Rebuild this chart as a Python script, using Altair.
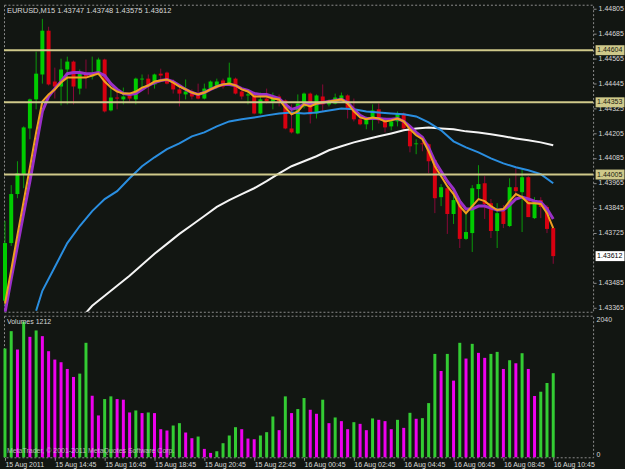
import json
import altair as alt
import pandas as pd

# ---------------- data ----------------
opens = [1.43397, 1.43675, 1.43911, 1.44007, 1.44227, 1.44367, 1.44487, 1.44698, 1.44453, 1.44429,
         1.44511, 1.44549, 1.44419, 1.44491, 1.44477, 1.44487, 1.44559, 1.44314, 1.44376, 1.44367,
         1.44391, 1.44367, 1.44463, 1.44467, 1.44439, 1.44491, 1.44496, 1.44453, 1.44415, 1.44391,
         1.44405, 1.44395, 1.44371, 1.44419, 1.44429, 1.44458, 1.44443, 1.44467, 1.44405, 1.44386,
         1.44391, 1.44299, 1.44371, 1.44357, 1.44381, 1.44362, 1.44227, 1.44203, 1.44333, 1.44395,
         1.44299, 1.44381, 1.44343, 1.44347, 1.44367, 1.44386, 1.44319, 1.44271, 1.44247, 1.44271,
         1.44319, 1.44275, 1.44237, 1.44261, 1.44299, 1.44227, 1.44151, 1.44155, 1.44151, 1.44074,
         1.43896, 1.43939, 1.43815, 1.43877, 1.43695, 1.43723, 1.43935, 1.43963, 1.43867, 1.43733,
         1.43829, 1.43757, 1.43944, 1.43920, 1.43992, 1.43795, 1.43882, 1.43849, 1.43747]
highs = [1.43781, 1.43954, 1.44069, 1.44237, 1.44371, 1.44597, 1.44755, 1.44717, 1.44520, 1.44563,
         1.44573, 1.44554, 1.44511, 1.44559, 1.44573, 1.44568, 1.44563, 1.44419, 1.44419, 1.44424,
         1.44400, 1.44472, 1.44487, 1.44487, 1.44491, 1.44515, 1.44501, 1.44463, 1.44439, 1.44463,
         1.44415, 1.44443, 1.44443, 1.44458, 1.44467, 1.44467, 1.44544, 1.44472, 1.44410, 1.44415,
         1.44405, 1.44400, 1.44419, 1.44400, 1.44391, 1.44367, 1.44343, 1.44391, 1.44400, 1.44400,
         1.44391, 1.44439, 1.44367, 1.44395, 1.44400, 1.44391, 1.44371, 1.44280, 1.44285, 1.44343,
         1.44347, 1.44280, 1.44271, 1.44309, 1.44304, 1.44232, 1.44175, 1.44175, 1.44155, 1.44079,
         1.43959, 1.43944, 1.43925, 1.43887, 1.43815, 1.43954, 1.44050, 1.43997, 1.43887, 1.43867,
         1.43858, 1.43987, 1.44035, 1.44031, 1.43997, 1.43896, 1.43896, 1.43858, 1.43748]
lows = [1.43373, 1.43661, 1.43891, 1.43939, 1.44175, 1.44319, 1.44443, 1.44434, 1.44371, 1.44338,
        1.44343, 1.44343, 1.44391, 1.44419, 1.44463, 1.44482, 1.44304, 1.44309, 1.44319, 1.44343,
        1.44357, 1.44343, 1.44419, 1.44391, 1.44419, 1.44453, 1.44439, 1.44395, 1.44333, 1.44367,
        1.44367, 1.44367, 1.44367, 1.44415, 1.44419, 1.44419, 1.44434, 1.44391, 1.44367, 1.44343,
        1.44295, 1.44295, 1.44347, 1.44319, 1.44333, 1.44223, 1.44203, 1.44199, 1.44323, 1.44251,
        1.44275, 1.44309, 1.44333, 1.44343, 1.44357, 1.44275, 1.44261, 1.44242, 1.44223, 1.44218,
        1.44251, 1.44208, 1.44218, 1.44237, 1.44223, 1.44112, 1.44103, 1.44117, 1.44011, 1.43819,
        1.43853, 1.43719, 1.43767, 1.43651, 1.43690, 1.43632, 1.43891, 1.43791, 1.43699, 1.43651,
        1.43747, 1.43752, 1.43891, 1.43728, 1.43800, 1.43791, 1.43795, 1.43723, 1.43575]
closes = [1.43675, 1.43911, 1.44011, 1.44232, 1.44367, 1.44491, 1.44698, 1.44439, 1.44429, 1.44511,
          1.44549, 1.44429, 1.44491, 1.44477, 1.44491, 1.44559, 1.44309, 1.44376, 1.44371, 1.44381,
          1.44371, 1.44467, 1.44467, 1.44429, 1.44487, 1.44482, 1.44443, 1.44415, 1.44395, 1.44405,
          1.44381, 1.44371, 1.44419, 1.44453, 1.44453, 1.44429, 1.44472, 1.44395, 1.44381, 1.44391,
          1.44299, 1.44367, 1.44357, 1.44376, 1.44357, 1.44227, 1.44208, 1.44347, 1.44395, 1.44295,
          1.44386, 1.44343, 1.44352, 1.44376, 1.44386, 1.44319, 1.44271, 1.44247, 1.44275, 1.44314,
          1.44266, 1.44232, 1.44261, 1.44299, 1.44227, 1.44141, 1.44155, 1.44151, 1.44069, 1.43891,
          1.43944, 1.43815, 1.43882, 1.43695, 1.43728, 1.43939, 1.43959, 1.43863, 1.43733, 1.43819,
          1.43767, 1.43944, 1.43925, 1.43992, 1.43800, 1.43882, 1.43849, 1.43743, 1.43612]
volumes = [1568, 1818, 1553, 1953, 1736, 1828, 1746, 1529, 1408, 1370,
           1273, 1158, 1206, 1650, 887, 603, 839, 878, 839, 830,
           646, 675, 637, 646, 637, 405, 386, 458, 492, 357,
           275, 299, 121, 63, 87, 203, 314, 434, 405, 270,
           260, 314, 362, 588, 391, 878, 637, 695, 854, 685,
           627, 830, 492, 574, 521, 405, 506, 482, 391, 560,
           540, 521, 405, 540, 424, 641, 555, 564, 781, 1490,
           1244, 1490, 1105, 1650, 1423, 1635, 1505, 1433, 1490, 1519,
           1273, 1399, 1355, 1500, 1273, 883, 945, 1071, 1212]
ma_orange = [1.43383, 1.43546, 1.43714, 1.43877, 1.44040, 1.44208, 1.44357, 1.44391, 1.44415, 1.44448,
             1.44472, 1.44472, 1.44472, 1.44472, 1.44482, 1.44491, 1.44453, 1.44424, 1.44405, 1.44395,
             1.44395, 1.44405, 1.44424, 1.44434, 1.44453, 1.44458, 1.44463, 1.44448, 1.44429, 1.44415,
             1.44400, 1.44391, 1.44400, 1.44415, 1.44429, 1.44439, 1.44443, 1.44434, 1.44415, 1.44405,
             1.44381, 1.44381, 1.44381, 1.44371, 1.44367, 1.44328, 1.44295, 1.44309, 1.44343, 1.44333,
             1.44347, 1.44352, 1.44357, 1.44362, 1.44367, 1.44347, 1.44309, 1.44280, 1.44271, 1.44280,
             1.44275, 1.44261, 1.44266, 1.44275, 1.44261, 1.44223, 1.44194, 1.44175, 1.44117, 1.44045,
             1.43997, 1.43949, 1.43911, 1.43853, 1.43819, 1.43853, 1.43887, 1.43877, 1.43853, 1.43834,
             1.43839, 1.43877, 1.43911, 1.43896, 1.43867, 1.43867, 1.43863, 1.43819, 1.43747]
ma_purple = [1.43339, 1.43503, 1.43661, 1.43819, 1.43973, 1.44141, 1.44309, 1.44381, 1.44419, 1.44453,
             1.44491, 1.44496, 1.44496, 1.44491, 1.44491, 1.44496, 1.44482, 1.44443, 1.44415, 1.44395,
             1.44391, 1.44395, 1.44415, 1.44434, 1.44448, 1.44458, 1.44463, 1.44453, 1.44434, 1.44415,
             1.44400, 1.44391, 1.44400, 1.44415, 1.44429, 1.44439, 1.44439, 1.44434, 1.44419, 1.44410,
             1.44395, 1.44391, 1.44391, 1.44381, 1.44371, 1.44343, 1.44319, 1.44328, 1.44343, 1.44343,
             1.44347, 1.44352, 1.44357, 1.44362, 1.44367, 1.44352, 1.44319, 1.44290, 1.44275, 1.44275,
             1.44275, 1.44271, 1.44271, 1.44275, 1.44261, 1.44237, 1.44208, 1.44184, 1.44136, 1.44069,
             1.44021, 1.43973, 1.43935, 1.43877, 1.43839, 1.43839, 1.43853, 1.43853, 1.43843, 1.43834,
             1.43834, 1.43858, 1.43887, 1.43896, 1.43887, 1.43877, 1.43872, 1.43839, 1.43791]
blue_bars = [5, 6, 8, 10, 12, 14, 16, 18, 20, 22, 24, 26, 28, 30, 32, 34, 36, 38, 40, 42, 44, 46,
             48, 50, 52, 54, 56, 58, 60, 62, 64, 66, 68, 70, 72, 74, 76, 78, 80, 82, 84, 86, 88]
ma_blue = [1.43349, 1.43445, 1.43560, 1.43675, 1.43757, 1.43829, 1.43887, 1.43925, 1.43987, 1.44045,
           1.44088, 1.44127, 1.44155, 1.44189, 1.44208, 1.44237, 1.44261, 1.44271, 1.44280, 1.44290,
           1.44299, 1.44304, 1.44299, 1.44304, 1.44314, 1.44323, 1.44319, 1.44309, 1.44304, 1.44299,
           1.44295, 1.44285, 1.44256, 1.44218, 1.44165, 1.44136, 1.44112, 1.44083, 1.44059, 1.44040,
           1.44026, 1.44007, 1.43963]
white_bars = [13, 14, 16, 18, 20, 22, 24, 26, 28, 30, 32, 34, 36, 38, 40, 42, 44, 46, 48, 50,
              52, 54, 56, 58, 60, 62, 64, 66, 68, 70, 72, 74, 76, 78, 80, 82, 84, 86, 88]
ma_white = [1.43339, 1.43373, 1.43421, 1.43469, 1.43517, 1.43570, 1.43623, 1.43671, 1.43719, 1.43762,
            1.43805, 1.43849, 1.43882, 1.43911, 1.43939, 1.43973, 1.44011, 1.44045, 1.44069, 1.44093,
            1.44122, 1.44141, 1.44160, 1.44175, 1.44189, 1.44203, 1.44218, 1.44227, 1.44232, 1.44227,
            1.44223, 1.44213, 1.44208, 1.44199, 1.44189, 1.44179, 1.44170, 1.44160, 1.44146]
level_lines = [1.44604, 1.44353, 1.44005]
# 1.43605 is hidden behind the current-price box in the reference
price_ticks = [1.44805, 1.44685, 1.44565, 1.44445, 1.44325, 1.44205, 1.44085,
               1.43965, 1.43845, 1.43725, 1.43485, 1.43365]
time_labels = ["15 Aug 2011", "15 Aug 14:45", "15 Aug 16:45", "15 Aug 18:45", "15 Aug 20:45",
               "15 Aug 22:45", "16 Aug 00:45", "16 Aug 02:45", "16 Aug 04:45", "16 Aug 06:45",
               "16 Aug 08:45", "16 Aug 10:45"]
symbol = "EURUSD,M15"
vol_max = 2040

# ---------------- styling ----------------
FONT = "Liberation Sans"
BG = "#121612"
TXT = "#d8d8d8"
GRID = "#8c8c8c"
UP_BODY, DN_BODY = "#00cc00", "#d80010"
UP_WICK, DN_WICK = "#0a9a0a", "#8a0838"
VOL_UP, VOL_DN = "#33cc33", "#ee00ee"
LEVEL = "#cfc98a"
W, HP, HV = 591, 308, 142

n = len(opens)
df = pd.DataFrame({"i": list(range(n)), "open": opens, "high": highs, "low": lows,
                   "close": closes, "vol": volumes})
df["vup"] = [True] + [volumes[k] > volumes[k - 1] for k in range(1, n)]
df_orange = pd.DataFrame({"i": list(range(n)), "v": ma_orange})
df_purple = pd.DataFrame({"i": list(range(n)), "v": ma_purple})
df_blue = pd.DataFrame({"i": blue_bars, "v": ma_blue})
df_white = pd.DataFrame({"i": white_bars, "v": ma_white})
df_levels = pd.DataFrame({"level": level_lines, "label": [f"{v:.5f}" for v in level_lines]})
df_last = pd.DataFrame({"level": [closes[-1]], "label": [f"{closes[-1]:.5f}"]})

xs = alt.Scale(domain=[-0.16, 94.4], nice=False, zero=False, padding=0)
ys = alt.Scale(domain=[1.43344, 1.44823], nice=False, zero=False, padding=0)
X = alt.X("i:Q", scale=xs, axis=None)

price_axis = alt.Axis(orient="right", values=price_ticks, format=".5f", title=None, grid=False,
                      domain=False, tickSize=3, tickColor=GRID, labelColor=TXT, labelFont=FONT,
                      labelFontSize=7, labelPadding=2, labelOverlap=False, labelBound=False)


def Y(field):
    return alt.Y(field, scale=ys, axis=price_axis)


base = alt.Chart(df)
up = "datum.close >= datum.open"
wicks = base.mark_rule(strokeWidth=1).encode(
    x=X, y=Y("low:Q"), y2="high:Q",
    color=alt.condition(up, alt.value(UP_WICK), alt.value(DN_WICK)))
bodies = base.mark_bar(size=4).encode(
    x=X, y=Y("open:Q"), y2="close:Q",
    color=alt.condition(up, alt.value(UP_BODY), alt.value(DN_BODY)))


def ma_line(d, color, width):
    return alt.Chart(d).mark_line(color=color, strokeWidth=width, clip=True).encode(
        x=X, y=Y("v:Q"))


white = ma_line(df_white, "#f4f4f4", 2)
blue = ma_line(df_blue, "#2a8ee0", 2)
purple = ma_line(df_purple, "#9a30c8", 3)
orange = ma_line(df_orange, "#f0a020", 2)

levels = alt.Chart(df_levels).mark_rule(color=LEVEL, strokeWidth=2).encode(y=Y("level:Q"))
lvl_box = alt.Chart(df_levels).mark_tick(orient="horizontal", thickness=10, size=29, color=LEVEL,
                                         opacity=1).encode(x=alt.value(W + 17), y=Y("level:Q"))
lvl_txt = alt.Chart(df_levels).mark_text(align="left", baseline="middle", font=FONT, fontSize=7,
                                         color="#202010").encode(
    x=alt.value(W + 4), y=Y("level:Q"), text="label:N")
last_box = alt.Chart(df_last).mark_tick(orient="horizontal", thickness=10, size=29, color="#ffffff",
                                        opacity=1).encode(x=alt.value(W + 17), y=Y("level:Q"))
last_txt = alt.Chart(df_last).mark_text(align="left", baseline="middle", font=FONT, fontSize=7,
                                        color="#000000").encode(
    x=alt.value(W + 4), y=Y("level:Q"), text="label:N")

title = alt.Chart(pd.DataFrame({"t": [f"{symbol}  {opens[-1]:.5f} {highs[-1]:.5f} {lows[-1]:.5f} {closes[-1]:.5f}"]})
                  ).mark_text(align="left", baseline="middle", font=FONT, fontSize=7.5, color=TXT).encode(
    x=alt.value(3), y=alt.value(6), text="t:N")

price = alt.layer(wicks, bodies, white, blue, purple, orange, levels, lvl_box, lvl_txt,
                  last_box, last_txt, title).properties(width=W, height=HP)

label_expr = json.dumps(time_labels) + "[round(datum.value / 8)]"
x_axis = alt.Axis(values=list(range(0, n, 8)), labelExpr=label_expr, title=None, grid=False, domain=False,
                  tickSize=3, tickColor=GRID, labelColor=TXT, labelFont=FONT, labelFontSize=7,
                  labelAlign="left", labelPadding=0, labelOverlap=False, labelFlush=False)
vol_axis = alt.Axis(orient="right", values=[0, vol_max], format="d", title=None, grid=False, domain=False,
                    ticks=False, labelColor=TXT, labelFont=FONT, labelFontSize=7, labelPadding=3,
                    labelFlush=True)

vbars = alt.Chart(df).mark_bar(size=3).encode(
    x=alt.X("i:Q", scale=xs, axis=x_axis),
    y=alt.Y("vol:Q", scale=alt.Scale(domain=[0, vol_max], nice=False, zero=True, padding=0), axis=vol_axis),
    color=alt.condition("datum.vup", alt.value(VOL_UP), alt.value(VOL_DN)))
vol_title = alt.Chart(pd.DataFrame({"t": [f"Volumes {volumes[-1]}"]})).mark_text(
    align="left", baseline="middle", font=FONT, fontSize=7, color=TXT).encode(
    x=alt.value(3), y=alt.value(6), text="t:N")
copyright_txt = alt.Chart(pd.DataFrame({"t": ["MetaTrader, \u00a9 2001-2011 MetaQuotes Software Corp."]})).mark_text(
    align="left", baseline="middle", font=FONT, fontSize=7, color="#c8c8c8", opacity=0.85).encode(
    x=alt.value(3), y=alt.value(HV - 6), text="t:N")

volume = alt.layer(vbars, vol_title, copyright_txt).properties(width=W, height=HV)

chart = alt.vconcat(price, volume, spacing=2).properties(
    padding={"left": 2, "top": 3, "right": 0, "bottom": 0}
).configure(background=BG).configure_view(
    stroke=GRID, strokeDash=[2, 2], strokeWidth=1
)

chart.save("out.html", embed_options={"renderer": "svg", "actions": False})
